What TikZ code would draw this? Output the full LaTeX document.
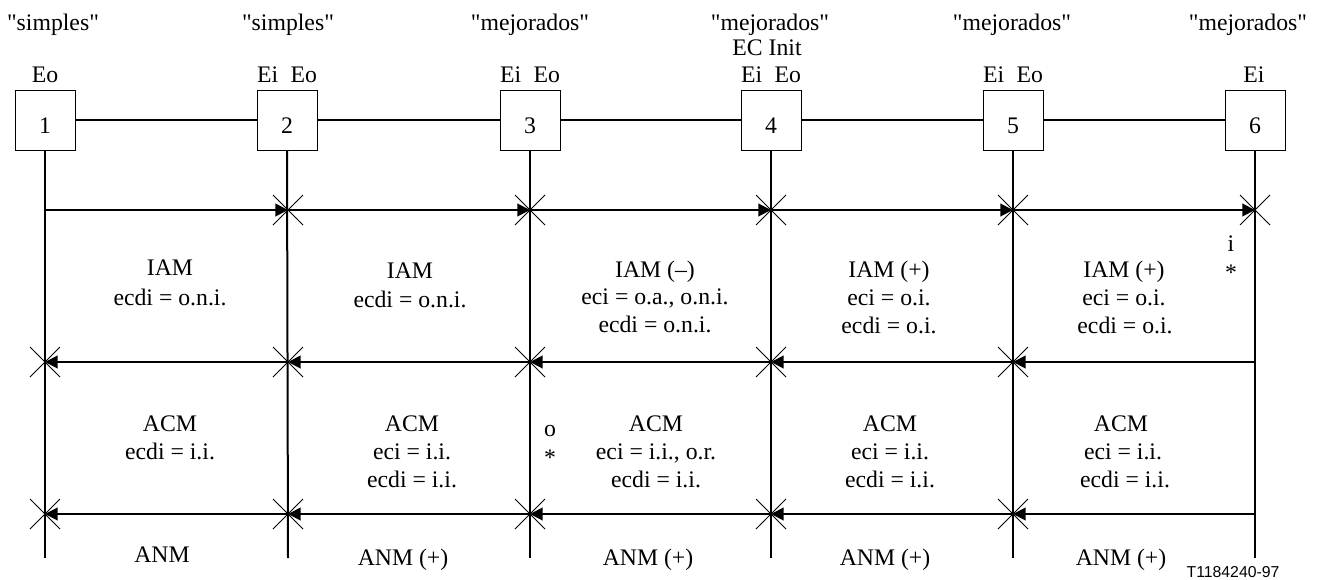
\documentclass[tikz,border=0pt]{standalone}
\usepackage{fontspec}
\setmainfont{Liberation Serif}[Ligatures=TeXOff]
\newfontfamily\sfont{Liberation Sans}
\usetikzlibrary{arrows.meta,shapes.misc}
\begin{document}
\begin{tikzpicture}[x=0.75pt,y=-0.75pt,
  every node/.style={inner sep=0pt, outer sep=0pt},
  lbl/.style={anchor=base, font=\fontsize{17.8}{21}\selectfont},
  box/.style={draw, line width=0.75pt, minimum size=45pt, inner sep=0pt,
    text height=19.5pt, text depth=0pt, font=\fontsize{17.8}{21}\selectfont},
  wire/.style={line width=1.5pt},
  sig/.style={line width=1.5pt, -{Triangle[length=9.5pt,width=9.5pt]}},
  xmark/.style={draw, cross out, minimum size=22.5pt, line width=0.6pt},
]
\useasboundingbox (0,0) rectangle (1321,579);

% boxes
\node[box] (b1) at (45,120) {1};
\node[box] (b2) at (287,120) {2};
\node[box] (b3) at (530,120) {3};
\node[box] (b4) at (771,120) {4};
\node[box] (b5) at (1013,120) {5};
\node[box] (b6) at (1255,120) {6};
\draw[wire] (b1) -- (b2);
\draw[wire] (b2) -- (b3);
\draw[wire] (b3) -- (b4);
\draw[wire] (b4) -- (b5);
\draw[wire] (b5) -- (b6);

% coordinates
\foreach \i/\x in {1/45,2/288,3/530,4/771,5/1013,6/1255}{
  \coordinate (t\i) at (\x,210);
  \coordinate (m\i) at (\x,362);
  \coordinate (r\i) at (\x,514);
  \coordinate (e\i) at (\x,558);
}
\draw[wire] (b1.south) -- (e1);
\draw[wire] (b2.south) -- (e2);
\draw[wire] (b3.south) -- (e3);
\draw[wire] (b4.south) -- (e4);
\draw[wire] (b5.south) -- (e5);
\draw[wire] (b6.south) -- (e6);

% arrows
\draw[sig] (t1) -- (t2);
\draw[sig] (t2) -- (t3);
\draw[sig] (t3) -- (t4);
\draw[sig] (t4) -- (t5);
\draw[sig] (t5) -- (t6);
\draw[sig] (m6) -- (m5);
\draw[sig] (m5) -- (m4);
\draw[sig] (m4) -- (m3);
\draw[sig] (m3) -- (m2);
\draw[sig] (m2) -- (m1);
\draw[sig] (r6) -- (r5);
\draw[sig] (r5) -- (r4);
\draw[sig] (r4) -- (r3);
\draw[sig] (r3) -- (r2);
\draw[sig] (r2) -- (r1);

% crosses
\node[xmark] (xt2) at (t2) {};
\node[xmark] (xt3) at (t3) {};
\node[xmark] (xt4) at (t4) {};
\node[xmark] (xt5) at (t5) {};
\node[xmark] (xt6) at (t6) {};
\node[xmark] (xm1) at (m1) {};
\node[xmark] (xm2) at (m2) {};
\node[xmark] (xm3) at (m3) {};
\node[xmark] (xm4) at (m4) {};
\node[xmark] (xm5) at (m5) {};
\node[xmark] (xr1) at (r1) {};
\node[xmark] (xr2) at (r2) {};
\node[xmark] (xr3) at (r3) {};
\node[xmark] (xr4) at (r4) {};
\node[xmark] (xr5) at (r5) {};

% top labels
\node[lbl] (q1) at (53,30) {"simples"};
\node[lbl] (q2) at (288,30) {"simples"};
\node[lbl] (q3) at (530,30) {"mejorados"};
\node[lbl] (q4) at (770,30) {"mejorados"};
\node[lbl] (q4b) at (767,55) {EC Init};
\node[lbl] (q5) at (1012,30) {"mejorados"};
\node[lbl] (q6) at (1248,30) {"mejorados"};

\node[lbl] (o1) at (45,82) {Eo};
\node[lbl, anchor=base west] (i2) at (257,82) {Ei};
\node[lbl, anchor=base east] (o2) at (317,82) {Eo};
\node[lbl, anchor=base west] (i3) at (500,82) {Ei};
\node[lbl, anchor=base east] (o3) at (560,82) {Eo};
\node[lbl, anchor=base west] (i4) at (741,82) {Ei};
\node[lbl, anchor=base east] (o4) at (801,82) {Eo};
\node[lbl, anchor=base west] (i5) at (983,82) {Ei};
\node[lbl, anchor=base east] (o5) at (1043,82) {Eo};
\node[lbl] (i6) at (1254,82) {Ei};

% row 1
\node[lbl] (a1a) at (170,275) {IAM};
\node[lbl] (a1b) at (170,305) {ecdi = o.n.i.};
\node[lbl] (a2a) at (410,278) {IAM};
\node[lbl] (a2b) at (410,307) {ecdi = o.n.i.};
\node[lbl] (a3a) at (655,277) {IAM (–)};
\node[lbl] (a3b) at (655,304) {eci = o.a., o.n.i.};
\node[lbl] (a3c) at (655,332) {ecdi = o.n.i.};
\node[lbl] (a4a) at (889,277) {IAM (+)};
\node[lbl] (a4b) at (889,305) {eci = o.i.};
\node[lbl] (a4c) at (889,333) {ecdi = o.i.};
\node[lbl] (a5a) at (1124,277) {IAM (+)};
\node[lbl] (a5b) at (1124,305) {eci = o.i.};
\node[lbl] (a5c) at (1125,333) {ecdi = o.i.};
\node[lbl] (s6a) at (1231,251) {i};
\node[lbl] (s6b) at (1231,280) {*};

% row 2
\node[lbl] (c1a) at (170,431) {ACM};
\node[lbl] (c1b) at (170,459) {ecdi = i.i.};
\node[lbl] (c2a) at (412,431) {ACM};
\node[lbl] (c2b) at (412,459) {eci = i.i.};
\node[lbl] (c2c) at (412,487) {ecdi = i.i.};
\node[lbl] (c3a) at (656,431) {ACM};
\node[lbl] (c3b) at (656,459) {eci = i.i., o.r.};
\node[lbl] (c3c) at (656,487) {ecdi = i.i.};
\node[lbl] (c4a) at (890,431) {ACM};
\node[lbl] (c4b) at (890,459) {eci = i.i.};
\node[lbl] (c4c) at (890,487) {ecdi = i.i.};
\node[lbl] (c5a) at (1121,431) {ACM};
\node[lbl] (c5b) at (1123,459) {eci = i.i.};
\node[lbl] (c5c) at (1125,487) {ecdi = i.i.};
\node[lbl] (s3a) at (550,436) {o};
\node[lbl] (s3b) at (550,465) {*};

% row 3
\node[lbl] (n1) at (162,562) {ANM};
\node[lbl] (n2) at (403,565) {ANM (+)};
\node[lbl] (n3) at (648,565) {ANM (+)};
\node[lbl] (n4) at (885,565) {ANM (+)};
\node[lbl] (n5) at (1121,565) {ANM (+)};

\node[anchor=base, font=\sfont\fontsize{11.85}{14}\selectfont] (ref) at (1233,577) {T1184240-97};
\end{tikzpicture}
\end{document}
